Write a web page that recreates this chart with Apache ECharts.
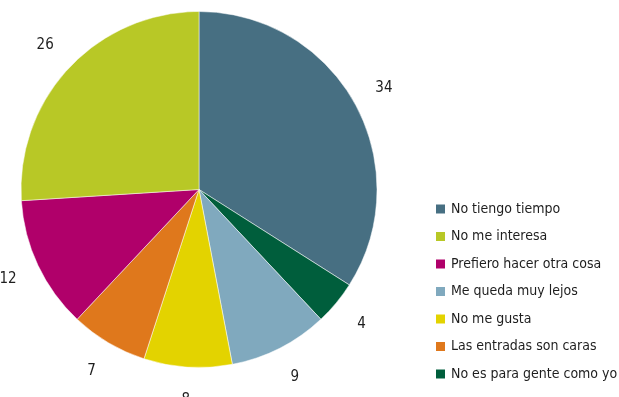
<!DOCTYPE html>
<html>
<head>
<meta charset="utf-8">
<script src="https://cdn.jsdelivr.net/npm/echarts@6/dist/echarts.min.js"></script>
<style>
  html, body { margin: 0; padding: 0; background: #fff; }
  #chart { width: 619px; height: 397px; }
</style>
</head>
<body>
<div id="chart"></div>
<script>
// Slices in clockwise order starting at 12 o'clock
const categories = [
  'No tiengo tiempo',
  'No es para gente como yo',
  'Me queda muy lejos',
  'No me gusta',
  'Las entradas son caras',
  'Prefiero hacer otra cosa',
  'No me interesa'
];
const values = [34, 4, 9, 8, 7, 12, 26];
const colors = ['#476f82', '#005e3c', '#80a9be', '#e3d300', '#df781c', '#b0006a', '#b8c826'];
// Order in which the legend lists the answers
const legendOrder = [
  'No tiengo tiempo',
  'No me interesa',
  'Prefiero hacer otra cosa',
  'Me queda muy lejos',
  'No me gusta',
  'Las entradas son caras',
  'No es para gente como yo'
];

const FONT = "'DejaVu Sans Condensed', 'Liberation Sans', sans-serif";
const center = [199, 189.5];

const chart = echarts.init(document.getElementById('chart'), null, { renderer: 'canvas' });

chart.setOption({
  animation: false,
  backgroundColor: '#fff',
  legend: {
    orient: 'vertical',
    left: 429,
    top: 197,
    itemWidth: 11,
    itemHeight: 11,
    itemGap: 13.5,
    icon: 'rect',
    data: legendOrder,
    textStyle: { fontFamily: FONT, fontSize: 14, color: '#1e1e1e' }
  },
  series: [
    {
      type: 'pie',
      center: center,
      radius: 178,
      startAngle: 90,
      clockwise: true,
      silent: true,
      label: { show: false },
      labelLine: { show: false },
      itemStyle: { borderColor: '#fff', borderWidth: 0.5 },
      data: categories.map((name, i) => ({
        name: name,
        value: values[i],
        itemStyle: { color: colors[i] }
      }))
    },
    {
      // Transparent ring used only to place the value labels outside the pie
      type: 'pie',
      center: center,
      radius: [198, 218],
      startAngle: 90,
      clockwise: true,
      silent: true,
      itemStyle: { color: 'rgba(0,0,0,0)' },
      label: {
        show: true,
        position: 'inside',
        formatter: p => String(p.value),
        fontFamily: FONT,
        fontSize: 15,
        color: '#1e1e1e'
      },
      labelLine: { show: false },
      data: values.map(v => ({ value: v }))
    }
  ]
});
</script>
</body>
</html>
